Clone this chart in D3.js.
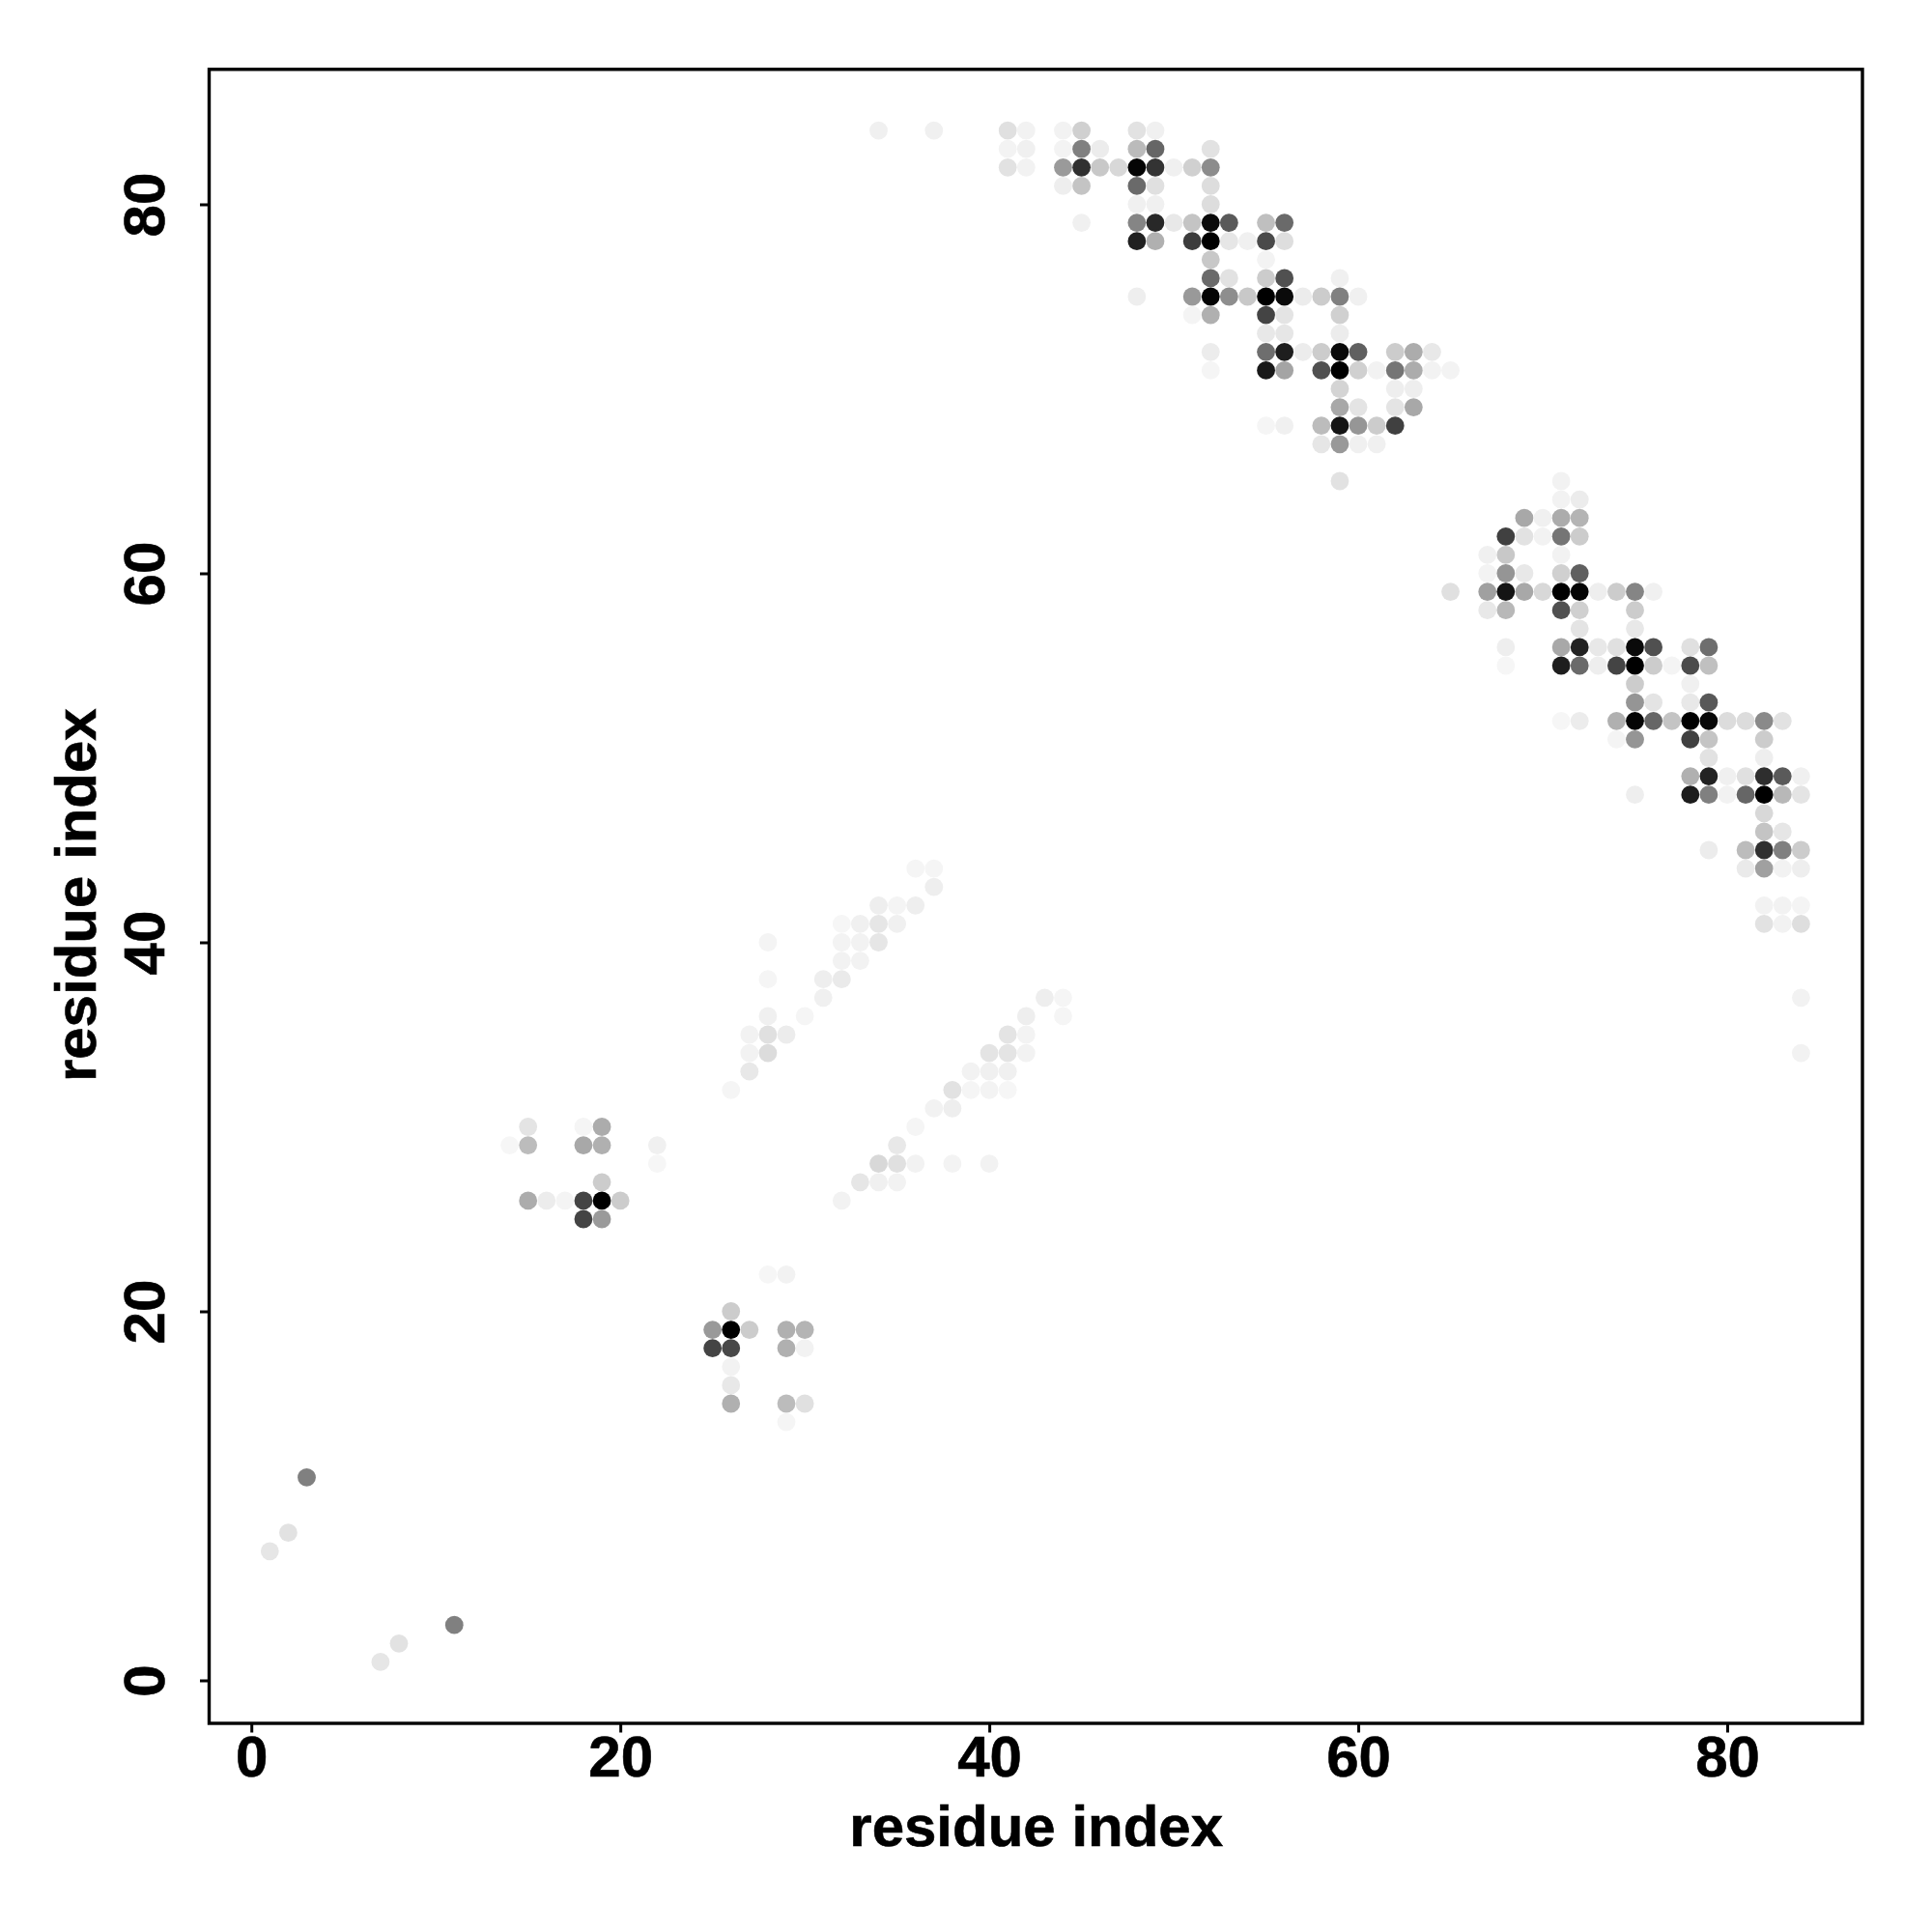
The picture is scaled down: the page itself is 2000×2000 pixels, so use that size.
<!DOCTYPE html>
<html><head><meta charset="utf-8">
<script src="https://cdn.jsdelivr.net/npm/d3@7/dist/d3.min.js"></script>
<style>html,body{margin:0;padding:0;background:#fff}svg{display:block}
text{font-family:"Liberation Sans",Arial,sans-serif;font-weight:700;fill:#000;stroke:#000;stroke-width:0.6px}</style>
</head><body><div id="chart"></div>
<script>
const xTicks=[0,20,40,60,80], yTicks=[0,20,40,60,80];
const xTitle="residue index", yTitle="residue index";
const residueX=[
34,37,41,42,44,45,48,49,
41,42,44,45,46,48,49,52,
41,42,44,45,46,47,48,49,50,51,52,
44,45,48,49,52,
48,49,52,
45,48,49,50,51,52,53,55,56,
48,49,51,52,53,54,55,56,
52,55,
52,53,55,56,59,
48,51,52,53,54,55,56,57,58,59,60,
51,52,55,56,59,
55,56,59,
52,55,56,57,58,59,60,62,63,64,
52,55,56,58,59,60,61,62,63,64,65,
59,62,63,
59,60,62,63,
55,56,58,59,60,61,62,
58,59,60,61,
59,71,
71,72,
69,70,71,72,
68,69,70,71,72,
67,68,71,
67,68,69,71,72,
65,67,68,69,70,71,72,73,74,75,76,
67,68,71,72,75,
72,75,
68,71,72,73,74,75,76,78,79,
68,71,72,73,74,75,76,77,78,79,
75,78,
75,76,78,79,
71,72,74,75,76,77,78,79,80,81,82,83,
74,75,78,79,82,
79,82,
78,79,80,81,82,83,84,
75,78,79,80,81,82,83,84,
82,
82,83,
79,81,82,83,84,
36,37,81,82,83,84,
37,
34,35,36,82,83,84,
32,33,34,35,82,83,84,
28,32,33,34,
32,33,
28,31,32,
31,43,44,84,
28,30,42,44,
27,28,29,41,42,
27,28,40,41,42,84,
27,39,40,41,
26,38,39,40,41,
37,38,
15,18,19,36,
14,15,18,19,22,35,
22,34,35,36,38,40,
19,33,34,35,
15,16,17,18,19,20,32,
18,19,
28,29,
26,
25,26,27,29,30,
25,26,29,30,
26,
26,
26,29,30,
29,
3,2,1,
11,8,7];
const residueY=[
84,84,84,84,84,84,84,84,
83,83,83,83,83,83,83,83,
82,82,82,82,82,82,82,82,82,82,82,
81,81,81,81,81,
80,80,80,
79,79,79,79,79,79,79,79,79,
78,78,78,78,78,78,78,78,
77,77,
76,76,76,76,76,
75,75,75,75,75,75,75,75,75,75,75,
74,74,74,74,74,
73,73,73,
72,72,72,72,72,72,72,72,72,72,
71,71,71,71,71,71,71,71,71,71,71,
70,70,70,
69,69,69,69,
68,68,68,68,68,68,68,
67,67,67,67,
65,65,
64,64,
63,63,63,63,
62,62,62,62,62,
61,61,61,
60,60,60,60,60,
59,59,59,59,59,59,59,59,59,59,59,
58,58,58,58,58,
57,57,
56,56,56,56,56,56,56,56,56,
55,55,55,55,55,55,55,55,55,55,
54,54,
53,53,53,53,
52,52,52,52,52,52,52,52,52,52,52,52,
51,51,51,51,51,
50,50,
49,49,49,49,49,49,49,
48,48,48,48,48,48,48,48,
47,
46,46,
45,45,45,45,45,
44,44,44,44,44,44,
43,
42,42,42,42,42,42,
41,41,41,41,41,41,41,
40,40,40,40,
39,39,
38,38,38,
37,37,37,37,
36,36,36,36,
35,35,35,35,35,
34,34,34,34,34,34,
33,33,33,33,
32,32,32,32,32,
31,31,
30,30,30,30,
29,29,29,29,29,29,
28,28,28,28,28,28,
27,27,27,27,
26,26,26,26,26,26,26,
25,25,
22,22,
20,
19,19,19,19,19,
18,18,18,18,
17,
16,
15,15,15,
14,
11,8,7,
3,2,1];
const contactStrength=[
15,15,31,13,13,47,29,15,
12,15,12,127,19,68,153,29,
29,13,101,207,55,39,250,204,15,47,115,
17,59,149,31,34,
15,15,34,
15,122,215,23,59,245,165,64,149,
223,79,195,255,25,15,181,33,
55,12,
149,29,51,175,15,
17,102,250,113,55,255,245,19,51,127,15,
11,79,187,27,47,
23,25,19,
19,145,225,19,51,245,159,51,83,23,
10,231,91,175,255,47,13,138,83,13,12,
43,17,17,
87,27,27,87,
10,15,67,235,105,51,191,
25,102,15,15,
29,13,
13,19,
87,15,83,75,
191,29,13,138,51,
15,55,13,
12,106,23,47,159,
31,95,235,87,39,255,250,17,51,122,15,
23,71,175,47,51,
27,23,
17,87,221,23,31,245,175,31,145,
9,225,149,17,187,255,51,11,179,63,
51,15,
106,27,23,167,
9,19,79,250,153,59,255,247,35,35,117,29,
11,106,191,59,51,
29,17,
79,221,15,31,209,165,15,
17,227,127,13,153,255,71,27,
39,
59,25,
19,67,207,127,51,
10,10,21,95,13,17,
17,
17,11,17,13,13,11,
9,15,25,15,29,13,33,
11,12,13,25,
13,13,
10,17,21,
15,17,10,13,
15,10,17,10,
13,31,19,27,12,
13,35,27,27,13,13,
23,13,15,15,
10,29,10,12,9,
13,17,
27,10,83,10,
9,67,87,79,15,23,
9,39,31,13,12,13,
51,25,15,13,
83,19,11,187,255,51,13,
187,101,
9,13,
51,
102,255,51,79,75,
187,183,79,13,
13,
23,
79,67,31,
10,
127,29,25,
127,29,25];

const W=2000,H=2000;
const box={l:216.5,r:1928,t:71.8,b:1784};
const x=d3.scaleLinear().domain([0,80]).range([260.2,1788]);
const y=d3.scaleLinear().domain([0,80]).range([1739.5,211.5]);
const shade=d3.scaleLinear().domain([0,255]).range(["#ffffff","#000000"]);

const svg=d3.select("#chart").append("svg").attr("width",W).attr("height",H).attr("viewBox",`0 0 ${W} ${H}`);
svg.append("rect").attr("width",W).attr("height",H).attr("fill","#fff");

svg.append("g").selectAll("circle").data(residueX.map((d,i)=>i)).join("circle")
  .attr("cx",i=>x(residueX[i])).attr("cy",i=>y(residueY[i])).attr("r",9.4)
  .attr("fill",i=>shade(contactStrength[i]));

svg.append("rect").attr("x",box.l).attr("y",box.t).attr("width",box.r-box.l).attr("height",box.b-box.t)
  .attr("fill","none").attr("stroke","#000").attr("stroke-width",3.4);

const gx=svg.append("g").attr("transform",`translate(0,${box.b})`)
  .call(d3.axisBottom(x).tickValues(xTicks).tickSize(9.5).tickPadding(0).tickFormat(d3.format("d")));
gx.select(".domain").remove();
gx.selectAll("line").attr("stroke","#000").attr("stroke-width",3);
gx.selectAll("text").attr("y",null).attr("dy",null).attr("transform","translate(0,54.5)")
  .attr("text-anchor","middle").style("font-size","60px");

const gy=svg.append("g").attr("transform",`translate(${box.l},0)`)
  .call(d3.axisLeft(y).tickValues(yTicks).tickSize(9.5).tickPadding(0).tickFormat(d3.format("d")));
gy.select(".domain").remove();
gy.selectAll("line").attr("stroke","#000").attr("stroke-width",3);
gy.selectAll("text").attr("x",null).attr("dy",null).attr("transform","translate(-46.5,0) rotate(-90)")
  .attr("text-anchor","middle").style("font-size","60px");

svg.append("text").attr("x",1072.7).attr("y",1910.7).attr("text-anchor","middle").style("font-size","60px").text(xTitle);
svg.append("text").attr("transform","translate(98.5,926.7) rotate(-90)").attr("text-anchor","middle").style("font-size","60px").text(yTitle);
</script></body></html>
